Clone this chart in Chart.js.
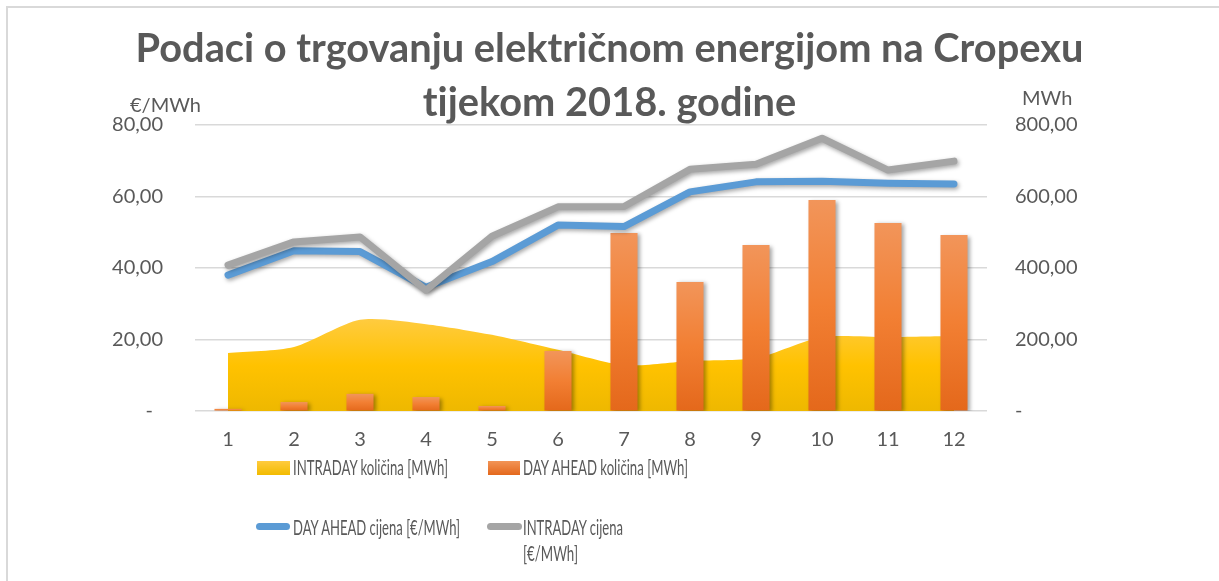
<!DOCTYPE html>
<html>
<head>
<meta charset="utf-8">
<script src="https://cdn.jsdelivr.net/npm/chart.js@4.4.1/dist/chart.umd.min.js"></script>
<style>
  html, body { margin: 0; padding: 0; background: #fff; }
  #wrap { position: relative; width: 1219px; height: 581px; overflow: hidden; font-family: Lato, "Noto Sans", sans-serif; color: #595959; font-variant-ligatures: none; }
  #frame { position: absolute; left: 6px; top: 6px; width: 1240px; height: 600px; border-left: 2px solid #D9D9D9; border-top: 2px solid #D9D9D9; }
  canvas { position: absolute; left: 0; top: 0; }
  .title { position: absolute; left: 0; width: 1219px; text-align: center; font-weight: 700; white-space: nowrap; color: #595959; }
  .unit { position: absolute; font-size: 20px; line-height: 24px; white-space: nowrap; }
  .lg { position: absolute; font-size: 20.5px; line-height: 26px; white-space: nowrap; transform-origin: 0 50%; }
  .box { position: absolute; }
</style>
</head>
<body>
<div id="wrap">
  <div id="frame"></div>
  <canvas id="c" width="1219" height="581"></canvas>
  <div class="title" id="t1" style="top:20px;">Podaci o trgovanju električnom energijom na Cropexu</div>
  <div class="title" id="t2" style="top:74px;">tijekom 2018. godine</div>
  <div class="unit" style="left:130px; top:92px;">€/MWh</div>
  <div class="unit" style="left:1022px; top:85px;">MWh</div>

  <div class="box" style="left:257px; top:461px; width:33px; height:14px; background:linear-gradient(#FFCB3E,#F2BB00);"></div>
  <div class="lg" data-w="155" style="left:293px; top:454px;">INTRADAY količina [MWh]</div>
  <div class="box" style="left:488px; top:461px; width:32px; height:14px; background:linear-gradient(#F29456,#E4681C);"></div>
  <div class="lg" data-w="165" style="left:523px; top:454px;">DAY AHEAD količina [MWh]</div>

  <div class="box" style="left:256px; top:523px; width:34px; height:7px; border-radius:4px; background:#5B9BD5;"></div>
  <div class="lg" data-w="167" style="left:293px; top:514px;">DAY AHEAD cijena [€/MWh]</div>
  <div class="box" style="left:487px; top:523px; width:35px; height:7px; border-radius:4px; background:#A5A5A5;"></div>
  <div class="lg" data-w="100" style="left:523px; top:514px;">INTRADAY cijena</div>
  <div class="lg" data-w="55" style="left:523px; top:540px;">[€/MWh]</div>
</div>
<script>
// ---- data ----
const categories = ['1','2','3','4','5','6','7','8','9','10','11','12'];
const intradayQty = [162, 179, 255, 243, 213, 171, 128, 140, 148, 207, 207, 210];      // MWh (area)
const dayAheadQty = [6, 25, 48, 39, 14, 168, 498, 361, 464, 590, 526, 492];             // MWh (bars)
const dayAheadPrice = [38.0, 44.8, 44.6, 34.6, 41.8, 52.0, 51.6, 61.3, 64.1, 64.3, 63.7, 63.5]; // €/MWh
const intradayPrice = [40.8, 47.3, 48.7, 33.8, 48.9, 57.1, 57.2, 67.6, 69.0, 76.3, 67.4, 69.9]; // €/MWh
const leftTicks = [0, 20, 40, 60, 80];
const rightTicks = [0, 200, 400, 600, 800];

// ---- text fitting ----
function fitTitle() {
  const c = document.createElement('canvas').getContext('2d');
  c.font = '700 40px Lato';
  const w = c.measureText(document.getElementById('t1').textContent).width;
  const fs = 40 * 948 / w;
  ['t1','t2'].forEach(id => {
    const el = document.getElementById(id);
    el.style.fontSize = fs.toFixed(2) + 'px';
    el.style.lineHeight = '53px';
  });
}
function fitLegend() {
  document.querySelectorAll('.lg').forEach(el => {
    const target = +el.dataset.w;
    const w = el.getBoundingClientRect().width;
    el.style.transform = 'scaleX(' + (target / w).toFixed(3) + ')';
  });
}

const fmt = (v) => v === 0 ? '-' : v.toFixed(2).replace('.', ',');

const shadowPlugin = {
  id: 'shadows',
  beforeDatasetDraw(chart, args) {
    const ds = chart.data.datasets[args.index];
    const c = chart.ctx;
    c.save();
    if (ds.shadow) {
      c.shadowColor = ds.shadow.color;
      c.shadowBlur = ds.shadow.blur;
      c.shadowOffsetX = ds.shadow.x;
      c.shadowOffsetY = ds.shadow.y;
    }
  },
  afterDatasetDraw(chart) { chart.ctx.restore(); }
};

function barGradient(ctx) {
  const chart = ctx.chart;
  const a = chart.chartArea;
  if (!a || ctx.parsed == null) return '#F07B2E';
  const yTop = chart.scales.y1.getPixelForValue(ctx.parsed.y);
  const g = chart.ctx.createLinearGradient(0, yTop, 0, a.bottom);
  g.addColorStop(0, '#F2955A');
  g.addColorStop(0.5, '#F27F33');
  g.addColorStop(1, '#E4681B');
  return g;
}
function areaGradient(ctx) {
  const chart = ctx.chart;
  const a = chart.chartArea;
  if (!a) return '#FFC000';
  const yTop = chart.scales.y1.getPixelForValue(Math.max(...intradayQty));
  const g = chart.ctx.createLinearGradient(0, yTop, 0, a.bottom);
  g.addColorStop(0, '#FFCB3E');
  g.addColorStop(0.5, '#FFC200');
  g.addColorStop(1, '#EEB800');
  return g;
}

const tickFont = { family: 'Lato', size: 20 };

fitTitle();

new Chart(document.getElementById('c'), {
  data: {
    labels: categories,
    datasets: [
      {
        type: 'line', label: 'INTRADAY cijena [€/MWh]', data: intradayPrice, yAxisID: 'y',
        borderColor: '#A5A5A5', borderWidth: 7, pointRadius: 0, tension: 0, fill: false,
        borderJoinStyle: 'round', borderCapStyle: 'round', order: 0,
        shadow: { color: 'rgba(0,0,0,0.35)', blur: 4, x: 1.5, y: 2 }
      },
      {
        type: 'line', label: 'DAY AHEAD cijena [€/MWh]', data: dayAheadPrice, yAxisID: 'y',
        borderColor: '#5B9BD5', borderWidth: 7, pointRadius: 0, tension: 0, fill: false,
        borderJoinStyle: 'round', borderCapStyle: 'round', order: 1,
        shadow: { color: 'rgba(0,0,0,0.35)', blur: 4, x: 1.5, y: 2 }
      },
      {
        type: 'bar', label: 'DAY AHEAD količina [MWh]', data: dayAheadQty, yAxisID: 'y1',
        backgroundColor: barGradient, borderWidth: 0, barPercentage: 0.41, categoryPercentage: 1, order: 2,
        shadow: { color: 'rgba(0,0,0,0.35)', blur: 4, x: 2.5, y: 1.5 }
      },
      {
        type: 'line', label: 'INTRADAY količina [MWh]', data: intradayQty, yAxisID: 'y1',
        backgroundColor: areaGradient, borderWidth: 0, pointRadius: 0, tension: 0.25, fill: 'origin', order: 3,
        shadow: { color: 'rgba(0,0,0,0.25)', blur: 4, x: 2, y: 1 }
      }
    ]
  },
  options: {
    responsive: false,
    animation: false,
    devicePixelRatio: 1,
    layout: { padding: { top: 125, left: 0, right: 0, bottom: 0 } },
    plugins: { legend: { display: false }, title: { display: false }, tooltip: { enabled: false } },
    scales: {
      x: {
        type: 'category', offset: true,
        grid: { display: false, drawTicks: false },
        border: { display: false },
        ticks: { color: '#595959', font: tickFont, padding: 17, maxRotation: 0 },
        afterFit: s => { s.height = 170; }
      },
      y: {
        position: 'left', min: 0, max: 80,
        afterBuildTicks: s => { s.ticks = leftTicks.map(v => ({ value: v })); },
        grid: { color: '#D9D9D9', lineWidth: 1.5, drawTicks: false },
        border: { display: false },
        ticks: { color: '#595959', font: tickFont, padding: 32, callback: v => v === 0 ? '-\u2002' : fmt(v) },
        afterFit: s => { s.width = 195; }
      },
      y1: {
        position: 'right', min: 0, max: 800,
        afterBuildTicks: s => { s.ticks = rightTicks.map(v => ({ value: v })); },
        grid: { drawOnChartArea: false, drawTicks: false },
        border: { display: false },
        ticks: { color: '#595959', font: tickFont, padding: 28, callback: v => fmt(v) },
        afterFit: s => { s.width = 232; }
      }
    }
  },
  plugins: [shadowPlugin]
});

fitLegend();
</script>
</body>
</html>
